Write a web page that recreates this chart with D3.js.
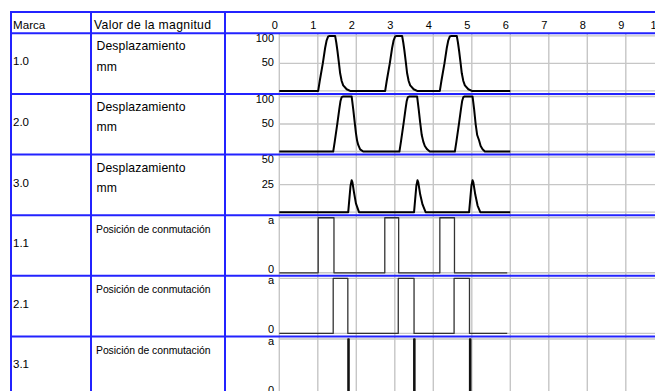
<!DOCTYPE html>
<html>
<head>
<meta charset="utf-8">
<script src="https://cdn.jsdelivr.net/npm/d3@7"></script>
<style>
  html, body { margin: 0; padding: 0; background: #fff; }
  svg { display: block; }
  text { font-family: "Liberation Sans", Arial, sans-serif; fill: #000; }
</style>
</head>
<body>
<svg id="chart" width="655" height="391"></svg>
<script>
// ---------- data ----------
const headers = ["Marca", "Valor de la magnitud"];
const timeTicks = [0, 1, 2, 3, 4, 5, 6, 7, 8, 9, 10];
const marks = ["1.0", "2.0", "3.0", "1.1", "2.1", "3.1"];
const magnitudes = ["Desplazamiento", "Desplazamiento", "Desplazamiento",
                    "Posición de conmutación", "Posición de conmutación", "Posición de conmutación"];
const units = ["mm", "mm", "mm", "", "", ""];
const yMax = [100, 100, 50, 1, 1, 1];
const yTickValues = [[100, 50], [100, 50], [50, 25], [1, 0], [1, 0], [1, 0]];
const yTickLabels = [["100", "50"], ["100", "50"], ["50", "25"], ["a", "0"], ["a", "0"], ["a", "0"]];

// displacement (mm) vs time, [t, value]
const disp10 = [[0,0],[1.01,0],[1.05,18],[1.13,50],[1.19,78],[1.23,92],[1.27,99],[1.31,100],[1.45,100],[1.48,88],[1.51,73],[1.55,50],[1.58,32],[1.62,18],[1.66,10],[1.75,3],[1.84,0],
  [2.75,0],[2.79,18],[2.87,50],[2.93,78],[2.97,92],[3.01,99],[3.05,100],[3.19,100],[3.22,88],[3.25,73],[3.29,50],[3.32,32],[3.36,18],[3.40,10],[3.49,3],[3.58,0],
  [4.17,0],[4.21,18],[4.29,50],[4.35,78],[4.39,92],[4.43,99],[4.47,100],[4.61,100],[4.64,88],[4.67,73],[4.71,50],[4.74,32],[4.78,18],[4.82,10],[4.91,3],[5.00,0],[6.0,0]];
const disp20 = [[0,0],[1.40,0],[1.44,18],[1.51,52],[1.56,78],[1.59,92],[1.62,99],[1.66,100],[1.88,100],[1.92,77],[1.96,52],[1.99,34],[2.02,20],[2.05,12],[2.10,4],[2.18,0],
  [3.12,0],[3.16,18],[3.23,52],[3.28,78],[3.31,92],[3.34,99],[3.38,100],[3.58,100],[3.62,77],[3.66,52],[3.70,30],[3.74,18],[3.78,10],[3.84,4],[3.91,0],
  [4.56,0],[4.60,18],[4.67,52],[4.72,78],[4.75,92],[4.78,99],[4.81,100],[5.02,100],[5.06,77],[5.10,50],[5.14,30],[5.19,20],[5.23,10],[5.28,4],[5.34,0],[6.0,0]];
const disp30 = [[0,0],[1.79,0],[1.82,12],[1.85,24],[1.88,29],[1.90,27],[1.94,18],[1.99,8],[2.07,0],
  [3.50,0],[3.53,12],[3.56,24],[3.59,29],[3.61,27],[3.66,16],[3.72,7],[3.80,0],
  [4.93,0],[4.96,12],[4.99,24],[5.02,29],[5.04,27],[5.09,16],[5.15,6],[5.22,0],[6.0,0]];

// switch positions: on/off times
const sw11On = [1.01, 2.74, 4.17], sw11Off = [1.42, 3.10, 4.55];
const sw21On = [1.40, 3.09, 4.54], sw21Off = [1.78, 3.50, 4.94];
const sw31On = [1.785, 3.495, 4.945], sw31Off = [1.81, 3.52, 4.97];
const switchEnd = 5.92;

// ---------- layout ----------
const svg = d3.select("#chart");
const W = 655, H = 391;
const tableLeft = 11, tableTop = 12, headerBottom = 33.3, rowH = 60.62;
const colX = [11, 91, 225];
const blue = "#2323ff", grid = "#c6c6c6";

const x = d3.scaleLinear().domain([0, 10]).range([279.3, 664.3]);
const rowTop = i => headerBottom + i * rowH;

// vertical gridlines
svg.append("g").selectAll("line").data(timeTicks).join("line")
  .attr("x1", d => x(d)).attr("x2", d => x(d))
  .attr("y1", headerBottom).attr("y2", H)
  .attr("stroke", grid).attr("stroke-width", 1.4);

// top axis tick labels
svg.append("g").selectAll("text").data(timeTicks).join("text")
  .attr("x", d => x(d) - 1.5).attr("y", 28.5)
  .attr("text-anchor", "end").style("font-size", "11px")
  .text(d => d);

// build step path points from on/off arrays
function stepPoints(on, off, end) {
  const pts = [[0, 0]];
  on.forEach((t, k) => { pts.push([t, 0], [t, 1], [off[k], 1], [off[k], 0]); });
  pts.push([end, 0]);
  return pts;
}
const series = [disp10, disp20, disp30,
  stepPoints(sw11On, sw11Off, switchEnd),
  stepPoints(sw21On, sw21Off, switchEnd),
  stepPoints(sw31On, sw31Off, switchEnd)];

marks.forEach((m, i) => {
  const top = rowTop(i), bottom = top + rowH;
  const y = d3.scaleLinear().domain([0, yMax[i]]).range([bottom - 3, top + 2.6]);
  const g = svg.append("g");
  // horizontal gridlines
  const hvals = i < 3 ? [0, yMax[i] / 2, yMax[i]] : [0, 1];
  g.selectAll("line.h").data(hvals).join("line")
    .attr("x1", x(0)).attr("x2", W)
    .attr("y1", d => y(d)).attr("y2", d => y(d))
    .attr("stroke", grid).attr("stroke-width", 1.4);
  // y tick labels
  g.selectAll("text.yt").data(yTickValues[i]).join("text")
    .attr("x", 274).attr("text-anchor", "end").style("font-size", "11px")
    .attr("y", (d, k) => {
      if (k === 0) return top + 8.6;
      return i < 3 ? y(d) + 3 : y(d);
    })
    .text((d, k) => yTickLabels[i][k]);
  // data line
  const line = d3.line().x(d => x(d[0])).y(d => y(d[1]));
  g.append("path").attr("d", line(series[i]))
    .attr("fill", "none")
    .attr("stroke", i < 3 ? "#000" : (i === 5 ? "#111" : "#333"))
    .attr("stroke-width", i < 3 ? 2 : (i === 5 ? 1.6 : 1.3))
    .attr("stroke-linejoin", "round");
  // row texts
  svg.append("text").attr("x", 13).attr("y", top + 32)
    .style("font-size", "11.5px").text(m);
  if (i < 3) {
    svg.append("text").attr("x", 96.5).attr("y", top + 17)
      .style("font-size", "12.2px").attr("textLength", 89).attr("lengthAdjust", "spacing")
      .text(magnitudes[i]);
    svg.append("text").attr("x", 96.5).attr("y", top + 37.5)
      .style("font-size", "12.2px").text(units[i]);
  } else {
    svg.append("text").attr("x", 96).attr("y", top + 17.5)
      .style("font-size", "10.4px").attr("textLength", 114.5).attr("lengthAdjust", "spacing")
      .text(magnitudes[i]);
  }
});

// header texts
svg.append("text").attr("x", 13).attr("y", 29).style("font-size", "11.6px")
  .attr("textLength", 32.3).attr("lengthAdjust", "spacing").text(headers[0]);
svg.append("text").attr("x", 94).attr("y", 29).style("font-size", "12.2px")
  .attr("textLength", 117).attr("lengthAdjust", "spacing").text(headers[1]);

// blue table lines
const hLines = [tableTop, headerBottom].concat(marks.map((m, i) => rowTop(i + 1)));
svg.append("g").selectAll("line").data(hLines).join("line")
  .attr("x1", tableLeft - 1).attr("x2", W)
  .attr("y1", d => d).attr("y2", d => d)
  .attr("stroke", blue).attr("stroke-width", 2);
svg.append("g").selectAll("line").data(colX).join("line")
  .attr("x1", d => d).attr("x2", d => d)
  .attr("y1", tableTop).attr("y2", H)
  .attr("stroke", blue).attr("stroke-width", 2);
</script>
</body>
</html>
